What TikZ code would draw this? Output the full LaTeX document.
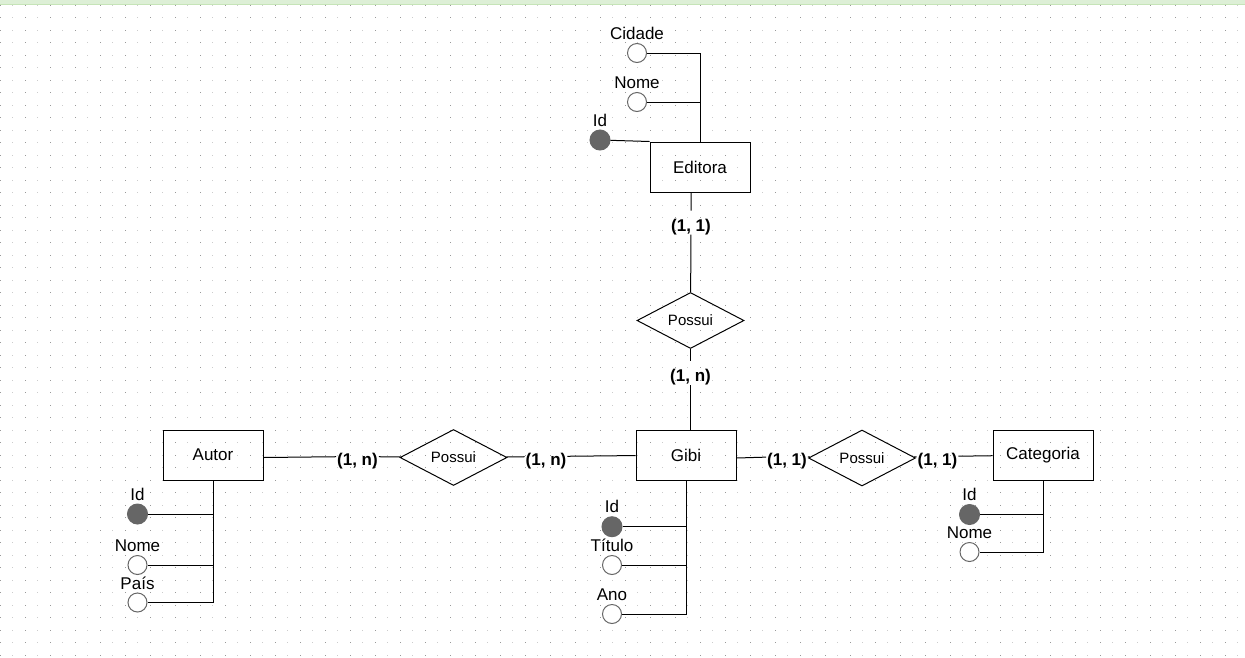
\documentclass[tikz,border=0pt]{standalone}
\usepackage{fontspec}
\setmainfont{Liberation Sans}
\usetikzlibrary{shapes.geometric}

\definecolor{bandGreen}{HTML}{DDEFD6}
\definecolor{bandLine}{HTML}{C6E4B8}
\definecolor{attrGray}{HTML}{666666}

\begin{document}
\begin{tikzpicture}[x = 1pt, y = -1pt, line width = 1pt]
\tikzstyle{entityStyle} = [draw, minimum width = 100pt, minimum height = 50pt, font = \fontsize{17}{20}\selectfont]
\tikzstyle{relationStyle} = [draw, diamond, aspect = 2, minimum width = 107pt, minimum height = 56pt, inner sep = 0pt, font = \fontsize{15}{18}\selectfont]
\tikzstyle{keyStyle} = [shape = circle, minimum size = 20pt, inner sep = 0pt, draw = attrGray, fill = attrGray]
\tikzstyle{attrStyle} = [shape = circle, minimum size = 19pt, inner sep = 0pt, draw = attrGray, fill = white]
\tikzstyle{attrLabelStyle} = [font = \fontsize{17}{20}\selectfont, inner xsep = 0pt, inner ysep = 3pt, text depth = 0pt]
\tikzstyle{cardStyle} = [font = \bfseries\fontsize{17}{20}\selectfont, inner xsep = 0.5pt, inner ysep = 3pt, text height = 17pt, text depth = 0pt]
\useasboundingbox (0,0) rectangle (1245,657);
\fill[white] (0,0) rectangle (1245,657);
% grid
\foreach \i in {0,2,...,98} {
  \foreach \j in {0,...,52} {
    \fill[black!40] (12.5*\i-0.5, 4.5+12.5*\j) rectangle ++(1,1);
  }
}
\foreach \i in {1,3,...,99} {
  \foreach \j in {0,...,52} {
    \fill[black!20] (12.5*\i-0.5, 4.5+12.5*\j) rectangle ++(1,1);
  }
}
\fill[bandGreen] (0,0) rectangle (1245,4.5);
\draw[bandLine] (0,4.5) -- (1245,4.5);
% entities
\node[entityStyle] (editora) at (700,167) {Editora};
\node[entityStyle] (autor) at (213,455) {Autor};
\node[entityStyle] (gibi) at (686,455) {Gibi};
\node[entityStyle] (categoria) at (1043,455) {Categoria};
% relations
\node[relationStyle] (possuiE) at (690.5,320.5) {Possui};
\node[relationStyle] (possuiA) at (453.5,457.5) {Possui};
\node[relationStyle] (possuiC) at (862,458) {Possui};
% cardinalities
\node[cardStyle] (cardE1) at (691,222.5) {(1, 1)};
\node[cardStyle] (cardE2) at (690.5,373) {(1, n)};
\node[cardStyle] (cardA1) at (357.5,456.5) {(1, n)};
\node[cardStyle] (cardA2) at (546,456.5) {(1, n)};
\node[cardStyle] (cardC1) at (787,456.5) {(1, 1)};
\node[cardStyle] (cardC2) at (937.5,456.5) {(1, 1)};
\draw (cardE1 |- editora.south) -- (cardE1) -- (possuiE);
\draw (possuiE) -- (cardE2) -- (cardE2 |- gibi.north);
\draw (autor.east |- possuiA) -- (cardA1) -- (possuiA);
\draw (possuiA) -- (cardA2) -- (gibi);
\draw (gibi.east |- possuiC) -- (cardC1) -- (possuiC);
\draw (possuiC) -- (cardC2) -- (categoria);
% Editora
\node[attrStyle, label = {[attrLabelStyle]above:Cidade}] (cidadeE) at (637,53) {};
\node[attrStyle, label = {[attrLabelStyle]above:Nome}] (nomeE) at (637,102) {};
\node[keyStyle, label = {[attrLabelStyle]above:Id}] (idE) at (600,140) {};
\draw (cidadeE) -| (editora.north);
\draw (nomeE) -- (nomeE -| editora.north);
\draw (idE) -- (editora.north west);
% Autor
\node[keyStyle, label = {[attrLabelStyle]above:Id}] (idA) at (137.5,514) {};
\node[attrStyle, label = {[attrLabelStyle]above:Nome}] (nomeA) at (137.5,565) {};
\node[attrStyle, label = {[attrLabelStyle]above:País}] (paisA) at (137.5,602.5) {};
\draw (autor.south) |- (paisA);
\draw (idA) -- (idA -| autor.south);
\draw (nomeA) -- (nomeA -| autor.south);
% Gibi
\node[keyStyle, label = {[attrLabelStyle]above:Id}] (idG) at (612,526.7) {};
\node[attrStyle, label = {[attrLabelStyle]above:Título}] (tituloG) at (612,565) {};
\node[attrStyle, label = {[attrLabelStyle]above:Ano}] (anoG) at (612,614) {};
\draw (gibi.south) |- (anoG);
\draw (idG) -- (idG -| gibi.south);
\draw (tituloG) -- (tituloG -| gibi.south);
% Categoria
\node[keyStyle, label = {[attrLabelStyle]above:Id}] (idC) at (969.5,514.5) {};
\node[attrStyle, label = {[attrLabelStyle]above:Nome}] (nomeC) at (969.5,552) {};
\draw (categoria.south) |- (nomeC);
\draw (idC) -- (idC -| categoria.south);
\end{tikzpicture}
\end{document}
